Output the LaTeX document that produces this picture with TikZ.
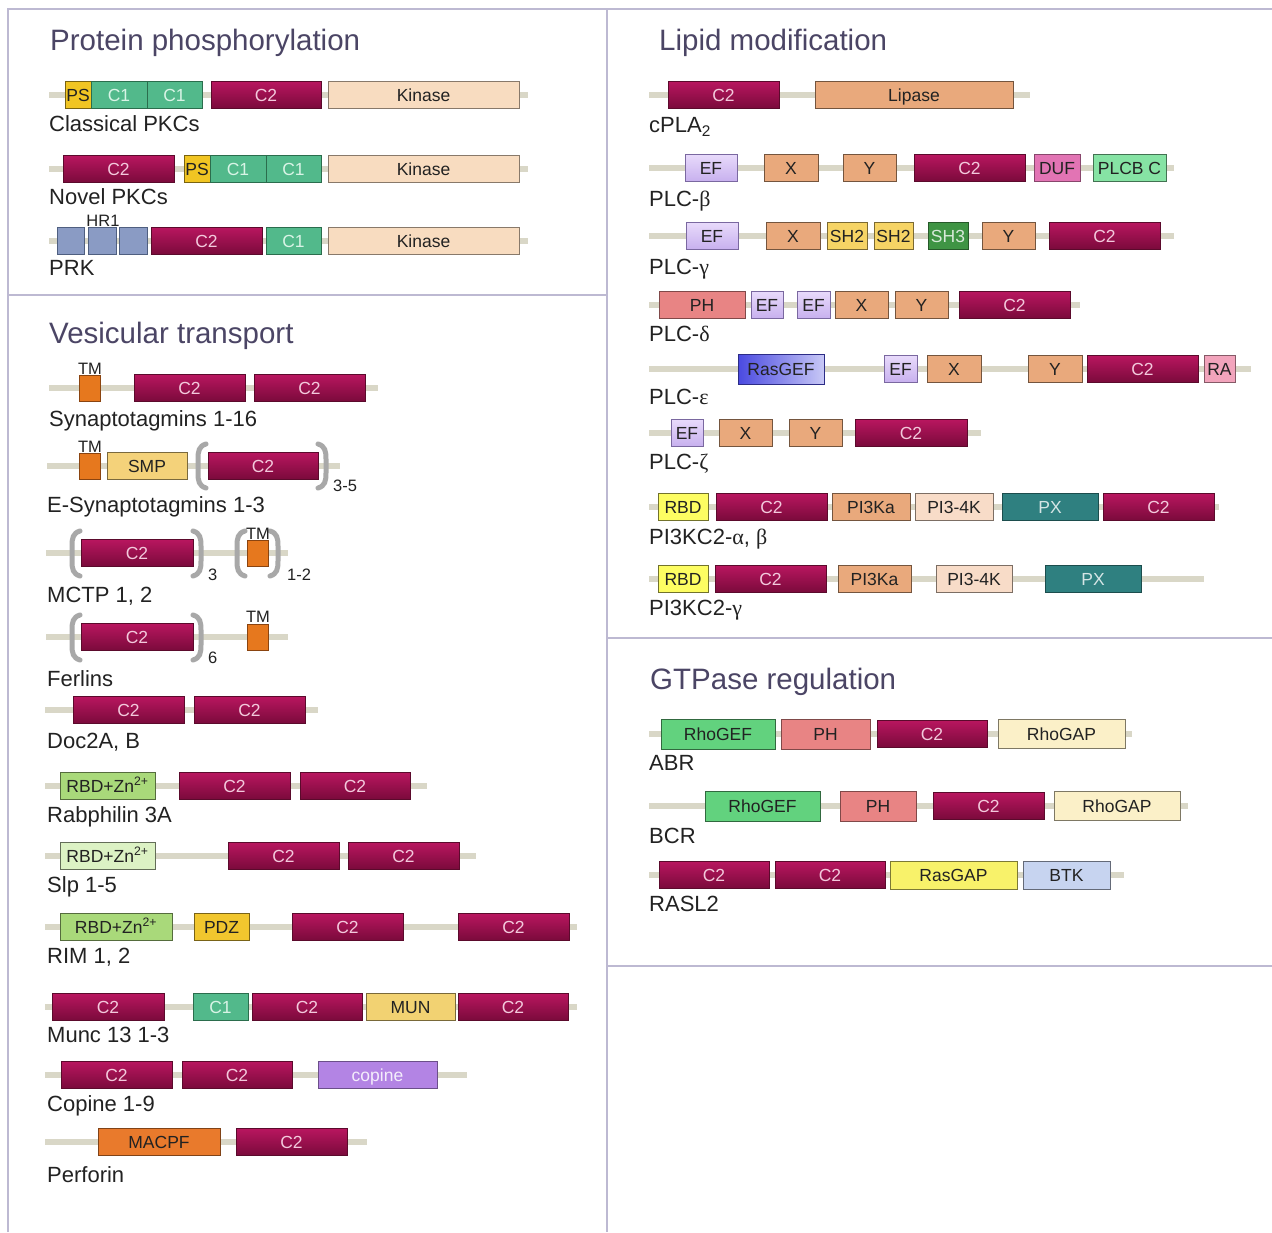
\documentclass[tikz,border=0pt]{standalone}
\usepackage{fontspec}
\setmainfont{Liberation Sans}
\newfontfamily\grk{Liberation Serif}
\definecolor{c2top}{HTML}{B8165F}
\definecolor{c2bot}{HTML}{7A0A3B}
\definecolor{c2edge}{HTML}{5B0A2C}
\definecolor{c2text}{HTML}{F3C9DC}
\definecolor{c1col}{HTML}{52B98B}
\definecolor{c1edge}{HTML}{2B6D4D}
\definecolor{c1text}{HTML}{D9F4E6}
\definecolor{pscol}{HTML}{F1C523}
\definecolor{kincol}{HTML}{F8DCC0}
\definecolor{hrcol}{HTML}{8A9BC4}
\definecolor{hredge}{HTML}{4F5F80}
\definecolor{tmcol}{HTML}{E6781E}
\definecolor{tmedge}{HTML}{8A4410}
\definecolor{smpcol}{HTML}{F4D27A}
\definecolor{pchcol}{HTML}{E9A97C}
\definecolor{eftop}{HTML}{E8DAFB}
\definecolor{efbot}{HTML}{C7B0EE}
\definecolor{efedge}{HTML}{7A68A0}
\definecolor{dufcol}{HTML}{E274B4}
\definecolor{plcbcol}{HTML}{86E3A4}
\definecolor{shtwo}{HTML}{F6D465}
\definecolor{shthree}{HTML}{3F9444}
\definecolor{phcol}{HTML}{E88484}
\definecolor{rgleft}{HTML}{4A4AE0}
\definecolor{rgright}{HTML}{C8C8F6}
\definecolor{racol}{HTML}{F2A4BC}
\definecolor{rbdcol}{HTML}{FDFD62}
\definecolor{pifk}{HTML}{F8DCC8}
\definecolor{pxcol}{HTML}{2F8080}
\definecolor{rhogefcol}{HTML}{62D27E}
\definecolor{rhogapcol}{HTML}{FBF0C8}
\definecolor{rasgapcol}{HTML}{F8F26A}
\definecolor{btkcol}{HTML}{C7D4F0}
\definecolor{zncol}{HTML}{A9D97A}
\definecolor{znlcol}{HTML}{DCF2C4}
\definecolor{pdzcol}{HTML}{F1C62E}
\definecolor{muncol}{HTML}{F2D272}
\definecolor{copcol}{HTML}{B384E4}
\definecolor{macpfcol}{HTML}{E97A2C}
\definecolor{bbcol}{HTML}{D9D7C7}
\definecolor{panelcol}{HTML}{BDB9D2}
\definecolor{titlecol}{HTML}{4B4565}
\definecolor{brkcol}{HTML}{A8A8A8}
\definecolor{darktxt}{HTML}{222222}
\newcommand\dom[6]{\node[dbox,#2,minimum width={#4-#3},anchor=west] (#1) at (#3,#5) {#6};}
\newcommand\lab[4]{\node[lbl,anchor=west] (#1) at (#2,#3) {#4};}
\newcommand\bbone[4]{\coordinate (#1s) at (#2,#4); \coordinate (#1e) at (#3,#4); \draw[backbone] (#1s) -- (#1e);}
\newcommand\lbrk[3]{\draw[brk] ({#1+8},#2) .. controls ({#1+1},{#2+2}) and (#1,{#2+7}) .. (#1,{#2+15}) -- (#1,{#3-15}) .. controls (#1,{#3-7}) and ({#1+1},{#3-2}) .. ({#1+8},#3);}
\newcommand\rbrk[3]{\draw[brk] ({#1-8},#2) .. controls ({#1-1},{#2+2}) and (#1,{#2+7}) .. (#1,{#2+15}) -- (#1,{#3-15}) .. controls (#1,{#3-7}) and ({#1-1},{#3-2}) .. ({#1-8},#3);}
\begin{document}
\begin{tikzpicture}[x=1pt,y=-1pt,
  dbox/.style={draw=darktxt!70,line width=0.9pt,inner sep=0pt,outer sep=0pt,minimum height=27,
    font=\fontsize{17.5}{20}\selectfont,text=darktxt,text height=12.5pt,text depth=0pt},
  ctwo/.style={top color=c2top,bottom color=c2bot,draw=c2edge,text=c2text},
  cone/.style={fill=c1col,draw=c1edge,text=c1text},
  psbox/.style={fill=pscol,draw=pscol!50!black},
  kin/.style={fill=kincol,draw=kincol!55!black},
  hr/.style={fill=hrcol,draw=hredge},
  tmbox/.style={fill=tmcol,draw=tmedge,minimum height=26},
  smp/.style={fill=smpcol,draw=smpcol!50!black},
  pch/.style={fill=pchcol,draw=pchcol!50!black},
  ef/.style={top color=eftop,bottom color=efbot,draw=efedge},
  duf/.style={fill=dufcol,draw=dufcol!60!black},
  plcb/.style={fill=plcbcol,draw=plcbcol!50!black},
  shtw/.style={fill=shtwo,draw=shtwo!50!black},
  shth/.style={fill=shthree,draw=shthree!60!black,text=shthree!20!white},
  ph/.style={fill=phcol,draw=phcol!55!black},
  rasgef/.style={left color=rgleft,right color=rgright,draw=rgleft!60!black,minimum height=30},
  ra/.style={fill=racol,draw=racol!55!black},
  rbd/.style={fill=rbdcol,draw=rbdcol!45!black},
  pik/.style={fill=pifk,draw=pifk!50!black},
  px/.style={fill=pxcol,draw=pxcol!60!black,text=pxcol!20!white},
  rhogef/.style={fill=rhogefcol,draw=rhogefcol!50!black,minimum height=30},
  rhogap/.style={fill=rhogapcol,draw=rhogapcol!50!black,minimum height=29},
  rasgap/.style={fill=rasgapcol,draw=rasgapcol!50!black,minimum height=28},
  btk/.style={fill=btkcol,draw=btkcol!50!black,minimum height=28},
  zn/.style={fill=zncol,draw=zncol!50!black},
  znl/.style={fill=znlcol,draw=znlcol!45!black},
  pdz/.style={fill=pdzcol,draw=pdzcol!50!black},
  mun/.style={fill=muncol,draw=muncol!50!black},
  cop/.style={fill=copcol,draw=copcol!60!black,text=copcol!15!white},
  macpf/.style={fill=macpfcol,draw=macpfcol!55!black},
  backbone/.style={draw=bbcol,line width=6.5pt},
  lbl/.style={inner sep=0pt,font=\fontsize{22}{26}\selectfont,text=darktxt,text height=15.8pt,text depth=0pt},
  small/.style={inner sep=0pt,font=\fontsize{16.5}{19}\selectfont,text=darktxt,text height=11.8pt,text depth=0pt},
  ttl/.style={inner sep=0pt,anchor=west,font=\fontsize{29.5}{34}\selectfont,text=titlecol,text height=21.1pt,text depth=0pt},
  panel/.style={draw=panelcol,line width=2pt},
  brk/.style={draw=brkcol,line width=5pt,line cap=round}
]
\useasboundingbox[fill=white] (0,0) rectangle (1272,1232);
% panel frame
\draw[panel] (8,1232) -- (8,9) -- (1272,9);
\draw[panel] (607,9) -- (607,1232);
\draw[panel] (8,295) -- (607,295);
\draw[panel] (607,638) -- (1272,638);
\draw[panel] (607,966) -- (1272,966);
% titles
\node[ttl] (t1) at (50,40) {Protein phosphorylation};
\node[ttl] (t2) at (49,333) {Vesicular transport};
\node[ttl] (t3) at (659,40) {Lipid modification};
\node[ttl] (t4) at (650,679) {GTPase regulation};
% ---------- Protein phosphorylation ----------
\bbone{a1}{49}{528}{95}
\dom{a1a}{psbox}{65}{91}{95}{PS}
\dom{a1b}{cone}{91}{147}{95}{C1}
\dom{a1c}{cone}{147}{202}{95}{C1}
\dom{a1d}{ctwo}{211}{321}{95}{C2}
\dom{a1e}{kin}{328}{519}{95}{Kinase}
\lab{a1l}{49}{124}{Classical PKCs}
\bbone{a2}{49}{528}{169}
\dom{a2a}{ctwo}{63}{174}{169}{C2}
\dom{a2b}{psbox}{184}{210}{169}{PS}
\dom{a2c}{cone}{210}{266}{169}{C1}
\dom{a2d}{cone}{266}{321}{169}{C1}
\dom{a2e}{kin}{328}{519}{169}{Kinase}
\lab{a2l}{49}{197}{Novel PKCs}
\bbone{a3}{49}{528}{241}
\dom{a3a}{hr}{57}{84}{241}{}
\dom{a3b}{hr}{88}{116}{241}{}
\dom{a3c}{hr}{119}{147}{241}{}
\dom{a3d}{ctwo}{151}{262}{241}{C2}
\dom{a3e}{cone}{266}{321}{241}{C1}
\dom{a3f}{kin}{328}{519}{241}{Kinase}
\node[small] (a3h) at (103,221) {HR1};
\lab{a3l}{49}{268}{PRK}
% ---------- Vesicular transport ----------
\bbone{b1}{49}{378}{388}
\dom{b1a}{tmbox}{79}{100}{388}{}
\dom{b1b}{ctwo}{134}{245}{388}{C2}
\dom{b1c}{ctwo}{254}{365}{388}{C2}
\node[small] (b1t) at (90,369) {TM};
\lab{b1l}{49}{419}{Synaptotagmins 1-16}
\bbone{b2}{47}{340}{466}
\dom{b2a}{tmbox}{79}{100}{466}{}
\dom{b2b}{smp}{107}{187}{466}{SMP}
\dom{b2c}{ctwo}{208}{318}{466}{C2}
\lbrk{198}{444}{488}
\rbrk{326}{444}{488}
\node[small,anchor=west] (b2n) at (333,486) {3-5};
\node[small] (b2t) at (90,447) {TM};
\lab{b2l}{47}{505}{E-Synaptotagmins 1-3}
\bbone{b3}{46}{288}{553}
\dom{b3a}{ctwo}{81}{193}{553}{C2}
\lbrk{72}{531}{576}
\rbrk{201}{531}{576}
\node[small,anchor=west] (b3n) at (208,575) {3};
\dom{b3b}{tmbox}{247}{268}{553}{}
\lbrk{237}{531}{576}
\rbrk{278}{531}{576}
\node[small,anchor=west] (b3m) at (287,575) {1-2};
\node[small] (b3t) at (258,534) {TM};
\lab{b3l}{47}{595}{MCTP 1, 2}
\bbone{b4}{46}{288}{637}
\dom{b4a}{ctwo}{81}{193}{637}{C2}
\lbrk{72}{615}{660}
\rbrk{201}{615}{660}
\node[small,anchor=west] (b4n) at (208,658) {6};
\dom{b4b}{tmbox}{247}{268}{637}{}
\node[small] (b4t) at (258,617) {TM};
\lab{b4l}{47}{679}{Ferlins}
\bbone{b5}{45}{318}{710}
\dom{b5a}{ctwo}{73}{184}{710}{C2}
\dom{b5b}{ctwo}{194}{305}{710}{C2}
\lab{b5l}{47}{741}{Doc2A, B}
\bbone{b6}{45}{427}{786}
\dom{b6a}{zn}{60}{155}{786}{RBD+Zn\textsuperscript{2+}}
\dom{b6b}{ctwo}{179}{290}{786}{C2}
\dom{b6c}{ctwo}{300}{410}{786}{C2}
\lab{b6l}{47}{815}{Rabphilin 3A}
\bbone{b7}{45}{476}{856}
\dom{b7a}{znl}{60}{155}{856}{RBD+Zn\textsuperscript{2+}}
\dom{b7b}{ctwo}{228}{339}{856}{C2}
\dom{b7c}{ctwo}{348}{459}{856}{C2}
\lab{b7l}{47}{885}{Slp 1-5}
\bbone{b8}{45}{577}{927}
\dom{b8a}{zn}{60}{172}{927}{RBD+Zn\textsuperscript{2+}}
\dom{b8b}{pdz}{194}{249}{927}{PDZ}
\dom{b8c}{ctwo}{292}{403}{927}{C2}
\dom{b8d}{ctwo}{458}{569}{927}{C2}
\lab{b8l}{47}{956}{RIM 1, 2}
\bbone{b9}{45}{577}{1007}
\dom{b9a}{ctwo}{52}{164}{1007}{C2}
\dom{b9b}{cone}{193}{248}{1007}{C1}
\dom{b9c}{ctwo}{252}{362}{1007}{C2}
\dom{b9d}{mun}{366}{455}{1007}{MUN}
\dom{b9e}{ctwo}{458}{568}{1007}{C2}
\lab{b9l}{47}{1035}{Munc 13 1-3}
\bbone{b10}{45}{467}{1075}
\dom{b10a}{ctwo}{61}{172}{1075}{C2}
\dom{b10b}{ctwo}{182}{292}{1075}{C2}
\dom{b10c}{cop}{318}{437}{1075}{copine}
\lab{b10l}{47}{1104}{Copine 1-9}
\bbone{b11}{45}{367}{1142}
\dom{b11a}{macpf}{98}{220}{1142}{MACPF}
\dom{b11b}{ctwo}{236}{347}{1142}{C2}
\lab{b11l}{47}{1175}{Perforin}
% ---------- Lipid modification ----------
\bbone{c1}{649}{1030}{95}
\dom{c1a}{ctwo}{668}{779}{95}{C2}
\dom{c1b}{pch}{815}{1013}{95}{Lipase}
\lab{c1l}{649}{125}{cPLA\textsubscript{2}}
\bbone{c2}{649}{1174}{168}
\dom{c2a}{ef}{685}{737}{168}{EF}
\dom{c2b}{pch}{764}{818}{168}{X}
\dom{c2c}{pch}{843}{896}{168}{Y}
\dom{c2d}{ctwo}{914}{1025}{168}{C2}
\dom{c2e}{duf}{1034}{1080}{168}{DUF}
\dom{c2f}{plcb}{1093}{1166}{168}{PLCB C}
\lab{c2l}{649}{199}{PLC-{\grk β}}
\bbone{c3}{649}{1174}{236}
\dom{c3a}{ef}{686}{738}{236}{EF}
\dom{c3b}{pch}{766}{820}{236}{X}
\dom{c3c}{shtw}{827}{867}{236}{SH2}
\dom{c3d}{shtw}{874}{913}{236}{SH2}
\dom{c3e}{shth}{928}{968}{236}{SH3}
\dom{c3f}{pch}{982}{1035}{236}{Y}
\dom{c3g}{ctwo}{1049}{1160}{236}{C2}
\lab{c3l}{649}{267}{PLC-{\grk γ}}
\bbone{c4}{649}{1080}{305}
\dom{c4a}{ph}{659}{745}{305}{PH}
\dom{c4b}{ef}{751}{783}{305}{EF}
\dom{c4c}{ef}{797}{830}{305}{EF}
\dom{c4d}{pch}{835}{888}{305}{X}
\dom{c4e}{pch}{895}{948}{305}{Y}
\dom{c4f}{ctwo}{959}{1070}{305}{C2}
\lab{c4l}{649}{334}{PLC-{\grk δ}}
\bbone{c5}{649}{1251}{369}
\dom{c5a}{rasgef}{738}{824}{369}{RasGEF}
\dom{c5b}{ef}{884}{917}{369}{EF}
\dom{c5c}{pch}{927}{981}{369}{X}
\dom{c5d}{pch}{1028}{1082}{369}{Y}
\dom{c5e}{ctwo}{1087}{1198}{369}{C2}
\dom{c5f}{ra}{1204}{1235}{369}{RA}
\lab{c5l}{649}{397}{PLC-{\grk ε}}
\bbone{c6}{649}{981}{433}
\dom{c6a}{ef}{671}{703}{433}{EF}
\dom{c6b}{pch}{719}{772}{433}{X}
\dom{c6c}{pch}{789}{842}{433}{Y}
\dom{c6d}{ctwo}{855}{967}{433}{C2}
\lab{c6l}{649}{462}{PLC-{\grk ζ}}
\bbone{c7}{649}{1219}{507}
\dom{c7a}{rbd}{658}{708}{507}{RBD}
\dom{c7b}{ctwo}{716}{827}{507}{C2}
\dom{c7c}{pch}{832}{910}{507}{PI3Ka}
\dom{c7d}{pik}{915}{993}{507}{PI3-4K}
\dom{c7e}{px}{1002}{1098}{507}{PX}
\dom{c7f}{ctwo}{1103}{1214}{507}{C2}
\lab{c7l}{649}{537}{PI3KC2-{\grk α}, {\grk β}}
\bbone{c8}{649}{1204}{579}
\dom{c8a}{rbd}{658}{708}{579}{RBD}
\dom{c8b}{ctwo}{715}{826}{579}{C2}
\dom{c8c}{pch}{838}{911}{579}{PI3Ka}
\dom{c8d}{pik}{936}{1012}{579}{PI3-4K}
\dom{c8e}{px}{1045}{1141}{579}{PX}
\lab{c8l}{649}{608}{PI3KC2-{\grk γ}}
% ---------- GTPase regulation ----------
\bbone{d1}{649}{1132}{734}
\dom{d1a}{rhogef}{661}{775}{734}{RhoGEF}
\dom{d1b}{ph,minimum height=30}{781}{870}{734}{PH}
\dom{d1c}{ctwo}{877}{987}{734}{C2}
\dom{d1d}{rhogap}{998}{1125}{734}{RhoGAP}
\lab{d1l}{649}{763}{ABR}
\bbone{d2}{649}{1188}{806}
\dom{d2a}{rhogef}{705}{820}{806}{RhoGEF}
\dom{d2b}{ph,minimum height=30}{840}{916}{806}{PH}
\dom{d2c}{ctwo}{933}{1044}{806}{C2}
\dom{d2d}{rhogap}{1054}{1180}{806}{RhoGAP}
\lab{d2l}{649}{836}{BCR}
\bbone{d3}{649}{1124}{875}
\dom{d3a}{ctwo}{659}{769}{875}{C2}
\dom{d3b}{ctwo}{775}{885}{875}{C2}
\dom{d3c}{rasgap}{890}{1017}{875}{RasGAP}
\dom{d3d}{btk}{1023}{1110}{875}{BTK}
\lab{d3l}{649}{904}{RASL2}
\end{tikzpicture}
\end{document}
